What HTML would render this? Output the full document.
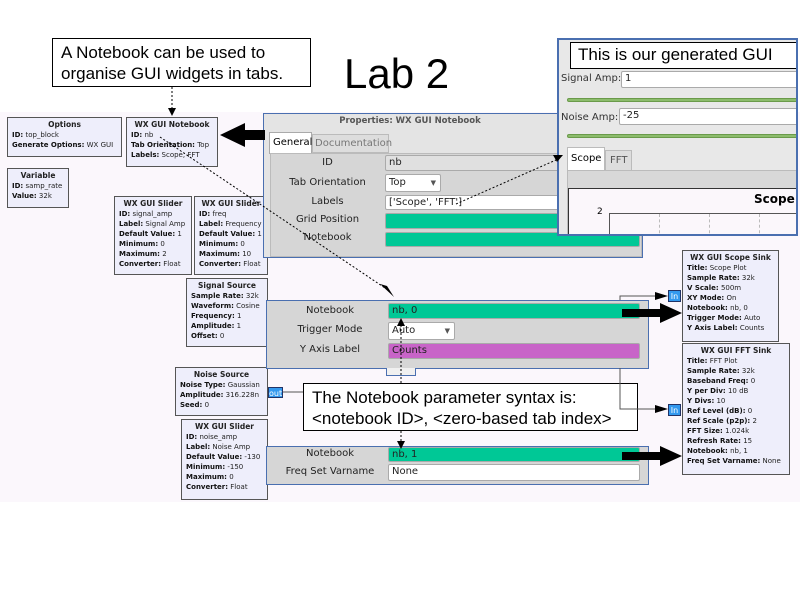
<!DOCTYPE html>
<html><head><style>
body{margin:0;width:800px;height:600px;background:#fff;position:relative;overflow:hidden;font-family:"DejaVu Sans","Liberation Sans",sans-serif;}
.a{position:absolute;box-sizing:border-box;}
.blk{position:absolute;box-sizing:border-box;background:#eeeefb;border:1px solid #555;font-size:7px;line-height:10px;padding:2px 4px;color:#222;white-space:nowrap;overflow:hidden;}
.blk .t{font-weight:bold;text-align:center;font-size:7.5px;}
.blk b{color:#111;}
.call{position:absolute;box-sizing:border-box;background:#fff;border:1px solid #000;font-family:"Liberation Sans",sans-serif;color:#000;}
.lbl{position:absolute;font-size:10px;color:#222;text-align:center;}
.f{position:absolute;box-sizing:border-box;border:1px solid #aaa;border-radius:2px;font-size:10px;padding-left:3px;line-height:14px;color:#222;}
.g{background:#00c896;}
.port{position:absolute;background:#3399ee;color:#fff;font-size:8px;line-height:11px;text-align:center;border:1px solid #236;box-sizing:border-box;}
</style></head><body>
<div class="a" style="left:0;top:112px;width:800px;height:390px;background:#fbf7fc;"></div>

<div class="call" style="left:52px;top:38px;width:259px;height:49px;font-size:17px;line-height:21px;padding:3px 8px;">A Notebook can be used to organise GUI widgets in tabs.</div>
<div class="a" style="left:344px;top:50px;font-family:'Liberation Sans',sans-serif;font-size:42px;color:#000;">Lab 2</div>

<div class="blk" style="left:7px;top:117px;width:115px;height:40px;"><div class="t">Options</div><b>ID:</b> top_block<br><b>Generate Options:</b> WX GUI</div>
<div class="blk" style="left:7px;top:168px;width:62px;height:40px;"><div class="t">Variable</div><b>ID:</b> samp_rate<br><b>Value:</b> 32k</div>
<div class="blk" style="left:126px;top:117px;width:92px;height:50px;"><div class="t">WX GUI Notebook</div><b>ID:</b> nb<br><b>Tab Orientation:</b> Top<br><b>Labels:</b> Scope, FFT</div>
<div class="blk" style="left:114px;top:196px;width:78px;height:79px;"><div class="t">WX GUI Slider</div><b>ID:</b> signal_amp<br><b>Label:</b> Signal Amp<br><b>Default Value:</b> 1<br><b>Minimum:</b> 0<br><b>Maximum:</b> 2<br><b>Converter:</b> Float</div>
<div class="blk" style="left:194px;top:196px;width:74px;height:79px;"><div class="t">WX GUI Slider</div><b>ID:</b> freq<br><b>Label:</b> Frequency<br><b>Default Value:</b> 1<br><b>Minimum:</b> 0<br><b>Maximum:</b> 10<br><b>Converter:</b> Float</div>
<div class="blk" style="left:186px;top:278px;width:82px;height:69px;"><div class="t">Signal Source</div><b>Sample Rate:</b> 32k<br><b>Waveform:</b> Cosine<br><b>Frequency:</b> 1<br><b>Amplitude:</b> 1<br><b>Offset:</b> 0</div>
<div class="blk" style="left:175px;top:367px;width:93px;height:49px;"><div class="t">Noise Source</div><b>Noise Type:</b> Gaussian<br><b>Amplitude:</b> 316.228n<br><b>Seed:</b> 0</div>
<div class="port" style="left:268px;top:387px;width:15px;height:11px;">out</div>
<div class="blk" style="left:181px;top:419px;width:87px;height:81px;"><div class="t">WX GUI Slider</div><b>ID:</b> noise_amp<br><b>Label:</b> Noise Amp<br><b>Default Value:</b> -130<br><b>Minimum:</b> -150<br><b>Maximum:</b> 0<br><b>Converter:</b> Float</div>

<div class="blk" style="left:682px;top:250px;width:97px;height:92px;"><div class="t">WX GUI Scope Sink</div><b>Title:</b> Scope Plot<br><b>Sample Rate:</b> 32k<br><b>V Scale:</b> 500m<br><b>XY Mode:</b> On<br><b>Notebook:</b> nb, 0<br><b>Trigger Mode:</b> Auto<br><b>Y Axis Label:</b> Counts</div>
<div class="blk" style="left:682px;top:343px;width:108px;height:132px;"><div class="t">WX GUI FFT Sink</div><b>Title:</b> FFT Plot<br><b>Sample Rate:</b> 32k<br><b>Baseband Freq:</b> 0<br><b>Y per Div:</b> 10 dB<br><b>Y Divs:</b> 10<br><b>Ref Level (dB):</b> 0<br><b>Ref Scale (p2p):</b> 2<br><b>FFT Size:</b> 1.024k<br><b>Refresh Rate:</b> 15<br><b>Notebook:</b> nb, 1<br><b>Freq Set Varname:</b> None</div>
<div class="port" style="left:668px;top:290px;width:13px;height:12px;">In</div>
<div class="port" style="left:668px;top:404px;width:13px;height:12px;">In</div>

<div class="a" style="left:263px;top:113px;width:380px;height:145px;background:#e4e4e4;border:1px solid #4a6fb0;"></div>
<div class="a" style="left:330px;top:116px;width:160px;font-size:8.5px;font-weight:bold;color:#555;text-align:center;">Properties: WX GUI Notebook</div>
<div class="a" style="left:269px;top:132px;width:43px;height:22px;background:#fff;border:1px solid #aaa;border-bottom:none;font-size:10px;padding:4px 3px;">General</div>
<div class="a" style="left:312px;top:134px;width:77px;height:19px;background:#ddd;border:1px solid #bbb;font-size:10px;padding:3px 2px;color:#777;">Documentation</div>
<div class="a" style="left:270px;top:153px;width:372px;height:104px;background:#d6d6d6;border:1px solid #bbb;"></div>
<div class="lbl" style="left:280px;top:157px;width:95px;">ID</div>
<div class="f" style="left:385px;top:155px;width:180px;height:16px;background:#e0e0e0;">nb</div>
<div class="lbl" style="left:280px;top:177px;width:95px;">Tab Orientation</div>
<div class="f" style="left:385px;top:174px;width:56px;height:18px;background:#fff;line-height:16px;">Top <span style="float:right;font-size:7px;margin-right:4px;color:#555">▼</span></div>
<div class="lbl" style="left:280px;top:196px;width:95px;">Labels</div>
<div class="f" style="left:385px;top:195px;width:180px;height:15px;background:#fff;line-height:13px;">['Scope', 'FFT']</div>
<div class="lbl" style="left:280px;top:214px;width:95px;">Grid Position</div>
<div class="f g" style="left:385px;top:213px;width:255px;height:16px;"></div>
<div class="lbl" style="left:280px;top:232px;width:95px;">Notebook</div>
<div class="f g" style="left:385px;top:232px;width:255px;height:15px;"></div>

<div class="a" style="left:266px;top:300px;width:383px;height:69px;background:#d6d6d6;border:1px solid #4a6fb0;"></div>
<div class="lbl" style="left:280px;top:305px;width:100px;">Notebook</div>
<div class="f g" style="left:388px;top:303px;width:252px;height:16px;">nb, 0</div>
<div class="lbl" style="left:280px;top:324px;width:100px;">Trigger Mode</div>
<div class="f" style="left:388px;top:322px;width:67px;height:18px;background:#fff;line-height:16px;">Auto <span style="float:right;font-size:7px;margin-right:4px;color:#555">▼</span></div>
<div class="lbl" style="left:280px;top:344px;width:100px;">Y Axis Label</div>
<div class="f" style="left:388px;top:343px;width:252px;height:16px;background:#c864c8;">Counts</div>
<div class="a" style="left:386px;top:368px;width:30px;height:8px;border:1px solid #4a6fb0;border-top:none;background:#f0f0f0;"></div>

<div class="a" style="left:266px;top:446px;width:383px;height:39px;background:#d6d6d6;border:1px solid #4a6fb0;"></div>
<div class="lbl" style="left:280px;top:448px;width:100px;">Notebook</div>
<div class="f g" style="left:388px;top:447px;width:252px;height:15px;">nb, 1</div>
<div class="lbl" style="left:280px;top:466px;width:100px;">Freq Set Varname</div>
<div class="f" style="left:388px;top:464px;width:252px;height:17px;background:#fff;">None</div>

<div class="call" style="left:303px;top:383px;width:335px;height:48px;font-size:17px;line-height:21px;padding:3px 8px;">The Notebook parameter syntax is:<br>&lt;notebook ID&gt;, &lt;zero-based tab index&gt;</div>

<div class="a" style="left:557px;top:38px;width:241px;height:198px;background:#e8e8e8;border:2px solid #4a6fb0;overflow:hidden;">
 <div class="call" style="left:11px;top:2px;width:230px;height:27px;font-size:17px;line-height:24px;padding-left:7px;">This is our generated GUI</div>
 <div class="a" style="left:2px;top:33px;font-size:10px;color:#333;">Signal Amp:</div>
 <div class="f" style="left:62px;top:31px;width:190px;height:17px;background:#fff;">1</div>
 <div class="a" style="left:8px;top:58px;width:240px;height:4px;background:#8cbc6c;border-radius:2px;border:1px solid #6a9a4a;"></div>
 <div class="a" style="left:2px;top:72px;font-size:10px;color:#333;">Noise Amp:</div>
 <div class="f" style="left:60px;top:68px;width:190px;height:17px;background:#fff;">-25</div>
 <div class="a" style="left:8px;top:94px;width:240px;height:4px;background:#8cbc6c;border-radius:2px;border:1px solid #6a9a4a;"></div>
 <div class="a" style="left:8px;top:107px;width:38px;height:24px;background:#fff;border:1px solid #bbb;border-bottom:none;font-size:10px;padding:5px 3px;">Scope</div>
 <div class="a" style="left:46px;top:110px;width:27px;height:21px;background:#ddd;border:1px solid #bbb;font-size:10px;padding:4px 4px;color:#555;">FFT</div>
 <div class="a" style="left:8px;top:130px;width:240px;height:70px;background:#d8d8d8;border:1px solid #bbb;"></div>
 <div class="a" style="left:9px;top:148px;width:240px;height:60px;background:#fbf7fb;border:1px solid #333;"></div>
 <div class="a" style="left:195px;top:152px;font-size:12px;font-weight:bold;">Scope</div>
 <div class="a" style="left:38px;top:167px;font-size:9px;">2</div>
 <div class="a" style="left:50px;top:173px;width:200px;height:40px;border-left:1px solid #555;border-top:1px solid #555;"></div>
 <div class="a" style="left:100px;top:174px;height:30px;border-left:1px dashed #bbb;"></div>
 <div class="a" style="left:150px;top:174px;height:30px;border-left:1px dashed #bbb;"></div>
 <div class="a" style="left:200px;top:174px;height:30px;border-left:1px dashed #bbb;"></div>
</div>

<svg class="a" style="left:0;top:0" width="800" height="600">
 <g stroke="#555" stroke-width="1" fill="none">
  <path d="M283,392H303"/><path d="M620,300V296H660"/><path d="M620,368V409H660"/>
 </g>
 <path d="M655,292L668,296L655,300z" fill="#000"/><path d="M655,405L668,409L655,413z" fill="#000"/>
 <g stroke="#000" stroke-width="1" stroke-dasharray="2,2" fill="none">
  <path d="M172,87V110"/><path d="M160,137L388,290"/><path d="M456,204L556,160"/>
  <path d="M401,383V326"/><path d="M401,431V443"/>
 </g>
 <path d="M168,108L176,108L172,116z" fill="#000"/>
 <path d="M380,284L394,297L387,286z" fill="#000"/>
 <path d="M553,155L563,155L557,162z" fill="#000"/>
 <path d="M397,326L405,326L401,318z" fill="#000"/>
 <path d="M397,441L405,441L401,449z" fill="#000"/>
 <path d="M265,130H245V123L220,135L245,147V140H265z" fill="#000"/>
 <path d="M622,309H660V303L682,313L660,323V317H622z" fill="#000"/>
 <path d="M622,452H660V446L682,456L660,466V460H622z" fill="#000"/>
</svg>
</body></html>
